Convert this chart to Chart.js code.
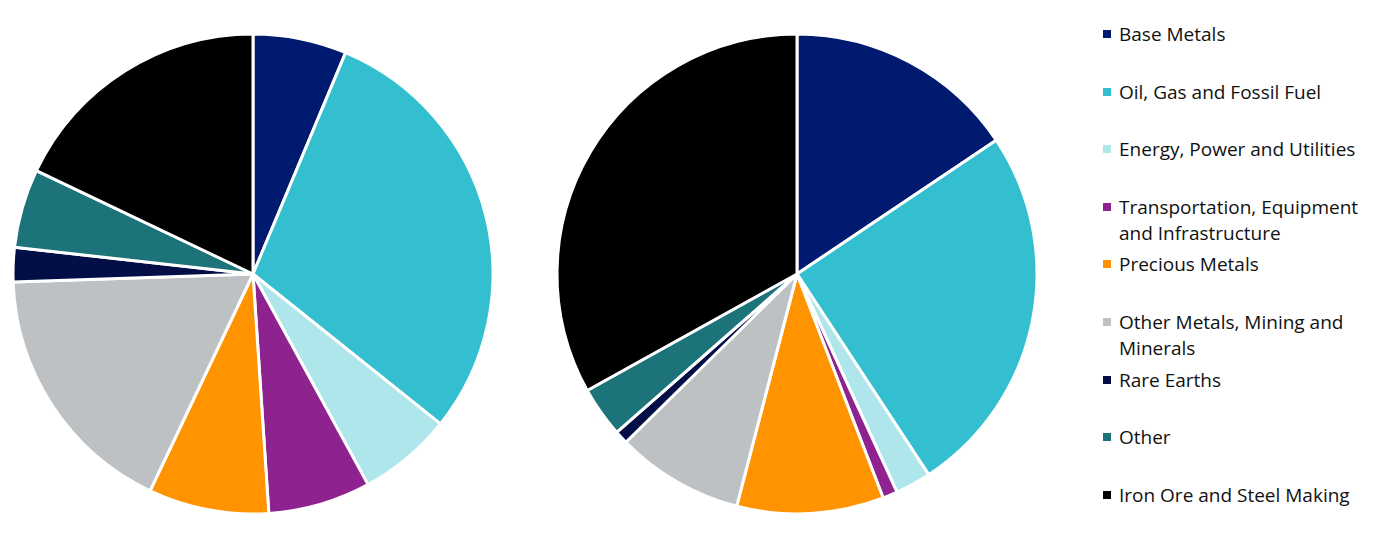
<!DOCTYPE html>
<html>
<head>
<meta charset="utf-8">
<script src="https://cdn.jsdelivr.net/npm/chart.js@4"></script>
<style>
  html, body { margin: 0; padding: 0; background: #fff; }
  body { width: 1377px; height: 533px; position: relative; overflow: hidden; font-family: "Open Sans", "Noto Sans", sans-serif; }
  .pie { position: absolute; top: 0; width: 506px; height: 533px; }
  #legend { position: absolute; left: 1103px; top: 0; }
  .item { position: absolute; left: 0; white-space: nowrap; font-size: 19px; line-height: 26px; color: #111; }
  .box { position: absolute; left: 0; top: 9px; width: 8px; height: 8px; }
  .txt { position: absolute; left: 16px; top: 0; }
</style>
</head>
<body>
<div class="pie" style="left:0"><canvas id="pieLeft"></canvas></div>
<div class="pie" style="left:544px"><canvas id="pieRight"></canvas></div>
<div id="legend"></div>
<script>
// categories and colours
const categories = [
    ['Base Metals'],
    ['Oil, Gas and Fossil Fuel'],
    ['Energy, Power and Utilities'],
    ['Transportation, Equipment', 'and Infrastructure'],
    ['Precious Metals'],
    ['Other Metals, Mining and', 'Minerals'],
    ['Rare Earths'],
    ['Other'],
    ['Iron Ore and Steel Making']
];
const colors = ['#001A70', '#33BFCF', '#AEE6EC', '#8E2390', '#FF9300', '#BEC1C3', '#020E45', '#1C737A', '#000000'];

// share (%)
const leftValues = [6.3, 29.4, 6.3, 6.9, 8.1, 17.4, 2.3, 5.3, 17.9];
const rightValues = [15.6, 25.2, 2.4, 1.0, 9.9, 8.6, 0.9, 3.4, 33.1];

function makePie(id, values) {
    new Chart(document.getElementById(id), {
        type: 'pie',
        data: {
            labels: categories.map(c => c.join(' ')),
            datasets: [{
                data: values,
                backgroundColor: colors,
                borderColor: '#ffffff',
                borderWidth: 3
            }]
        },
        options: {
            responsive: true,
            maintainAspectRatio: false,
            animation: false,
            radius: 240,
            layout: { padding: { top: 15 } },
            plugins: {
                legend: { display: false },
                tooltip: { enabled: true }
            }
        }
    });
}

makePie('pieLeft', leftValues);
makePie('pieRight', rightValues);

// Legend (fixed spacing per entry, like the original)
const legend = document.getElementById('legend');
categories.forEach((lines, i) => {
    const item = document.createElement('div');
    item.className = 'item';
    item.style.top = (21 + i * 57.6) + 'px';
    const box = document.createElement('div');
    box.className = 'box';
    box.style.background = colors[i];
    const txt = document.createElement('div');
    txt.className = 'txt';
    txt.innerHTML = lines.join('<br>');
    item.appendChild(box);
    item.appendChild(txt);
    legend.appendChild(item);
});
</script>
</body>
</html>
